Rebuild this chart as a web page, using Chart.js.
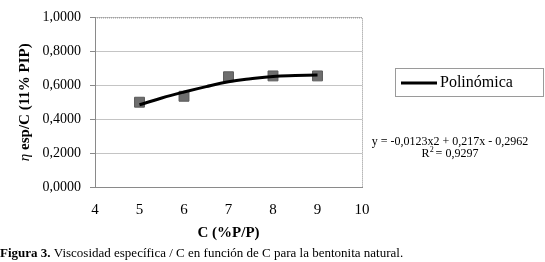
<!DOCTYPE html>
<html>
<head>
<meta charset="utf-8">
<script src="https://cdn.jsdelivr.net/npm/chart.js@4/dist/chart.umd.min.js"></script>
<style>
  html, body { margin: 0; padding: 0; background: #fff; }
  #wrap { position: relative; width: 545px; height: 262px; }
</style>
</head>
<body>
<div id="wrap"><canvas id="c" width="545" height="262"></canvas></div>
<script>
/* data */
const DATA_X = [5, 6, 7, 8, 9];
const DATA_Y = [0.500, 0.535, 0.650, 0.655, 0.655];
/* polynomial trend line, sampled from the drawn curve */
const TREND_X = [5, 5.5, 6, 6.5, 7, 7.5, 8, 8.5, 9];
const TREND_Y = [0.485, 0.525, 0.560, 0.592, 0.620, 0.638, 0.652, 0.657, 0.660];
const X_TICKS = [4, 5, 6, 7, 8, 9, 10];
const Y_TICKS = [0, 0.2, 0.4, 0.6, 0.8, 1.0];

const SERIF = '"Liberation Serif", "Times New Roman", serif';

/* ── extras: y title, legend box, equation, caption, dotted border ── */
const extras = {
  id: 'extras',
  afterDraw(chart) {
    const ctx = chart.ctx;
    const a = chart.chartArea;
    ctx.save();

    // dotted right/top frame
    ctx.strokeStyle = '#8a8a8a';
    ctx.lineWidth = 1;
    ctx.setLineDash([1, 1]);
    ctx.beginPath();
    ctx.moveTo(a.left, a.top + 0.5);
    ctx.lineTo(a.right + 0.5, a.top + 0.5);
    ctx.lineTo(a.right + 0.5, a.bottom);
    ctx.stroke();
    ctx.setLineDash([]);

    // y axis title: italic eta + bold text
    ctx.translate(25, (a.top + a.bottom) / 2);
    ctx.rotate(-Math.PI / 2);
    ctx.fillStyle = '#000';
    ctx.textBaseline = 'middle';
    const eta = 'η ';
    const rest = 'esp/C (11% PIP)';
    ctx.font = 'italic 15px ' + SERIF;
    const w1 = ctx.measureText(eta).width;
    ctx.font = 'bold 15px ' + SERIF;
    const w2 = ctx.measureText(rest).width;
    const x0 = -(w1 + w2) / 2;
    ctx.font = 'italic 15px ' + SERIF;
    ctx.textAlign = 'left';
    ctx.fillText(eta, x0, 0);
    ctx.font = 'bold 15px ' + SERIF;
    ctx.fillText(rest, x0 + w1, 0);
    ctx.setTransform(1, 0, 0, 1, 0, 0);

    // legend box
    ctx.fillStyle = '#fff';
    ctx.fillRect(395.5, 68.5, 148, 28);
    ctx.strokeStyle = '#9a9a9a';
    ctx.strokeRect(395.5, 68.5, 148, 28);
    ctx.strokeStyle = '#000';
    ctx.lineWidth = 3;
    ctx.beginPath();
    ctx.moveTo(401, 83);
    ctx.lineTo(437, 83);
    ctx.stroke();
    ctx.fillStyle = '#000';
    ctx.font = '16px ' + SERIF;
    ctx.textAlign = 'left';
    ctx.textBaseline = 'middle';
    ctx.fillText('Polinómica', 440, 83);

    // trend equation
    ctx.font = '12px ' + SERIF;
    ctx.textAlign = 'center';
    ctx.fillText('y = -0,0123x2 + 0,217x - 0,2962', 450, 142);
    ctx.fillText('R  = 0,9297', 450, 154);
    const rw = ctx.measureText('R  = 0,9297').width;
    ctx.font = '8px ' + SERIF;
    ctx.textAlign = 'left';
    ctx.fillText('2', 450 - rw / 2 + 8.2, 150);

    // caption
    ctx.textBaseline = 'middle';
    ctx.font = 'bold 13px ' + SERIF;
    const cap1 = 'Figura 3.';
    ctx.fillText(cap1, 0, 254);
    const cw = ctx.measureText(cap1 + ' ').width;
    ctx.font = '13px ' + SERIF;
    ctx.fillText('Viscosidad específica / C en función de C para la bentonita natural.', cw, 254);

    ctx.restore();
  }
};

new Chart(document.getElementById('c'), {
  type: 'scatter',
  data: {
    datasets: [
      {
        label: 'Polinómica',
        data: TREND_X.map((x, i) => ({ x, y: TREND_Y[i] })),
        showLine: true,
        borderColor: '#000',
        borderWidth: 3,
        pointRadius: 0,
        tension: 0.4,
        order: 0
      },
      {
        label: 'Datos',
        data: DATA_X.map((x, i) => ({ x, y: DATA_Y[i] })),
        pointStyle: 'rect',
        pointRadius: 7,
        backgroundColor: '#6e6e6e',
        borderColor: '#5a5a5a',
        borderWidth: 1,
        order: 1
      }
    ]
  },
  options: {
    responsive: false,
    animation: false,
    layout: { padding: { left: 0, right: 183, top: 11, bottom: 18 } },
    plugins: {
      legend: { display: false },
      tooltip: { enabled: false }
    },
    scales: {
      x: {
        type: 'linear',
        min: 4,
        max: 10,
        afterBuildTicks: s => { s.ticks = X_TICKS.map(v => ({ value: v })); },
        afterFit: s => { s.height = 57; },
        ticks: {
          color: '#000',
          font: { size: 15, family: SERIF },
          padding: 10
        },
        grid: { display: false, drawTicks: true, tickLength: 4, tickColor: '#8a8a8a' },
        border: { color: '#8a8a8a' },
        title: {
          display: true,
          text: 'C (%P/P)',
          color: '#000',
          font: { size: 15, weight: 'bold', family: SERIF },
          padding: { top: 6, bottom: 2 }
        }
      },
      y: {
        min: 0,
        max: 1,
        afterBuildTicks: s => { s.ticks = Y_TICKS.map(v => ({ value: v })); },
        afterFit: s => { s.width = 95; },
        ticks: {
          color: '#000',
          font: { size: 14, family: SERIF },
          padding: 9,
          callback: v => v.toFixed(4).replace('.', ',')
        },
        grid: { color: '#c4c4c4', tickLength: 5, tickColor: '#8a8a8a' },
        border: { color: '#8a8a8a' }
      }
    }
  },
  plugins: [extras]
});
</script>
</body>
</html>
